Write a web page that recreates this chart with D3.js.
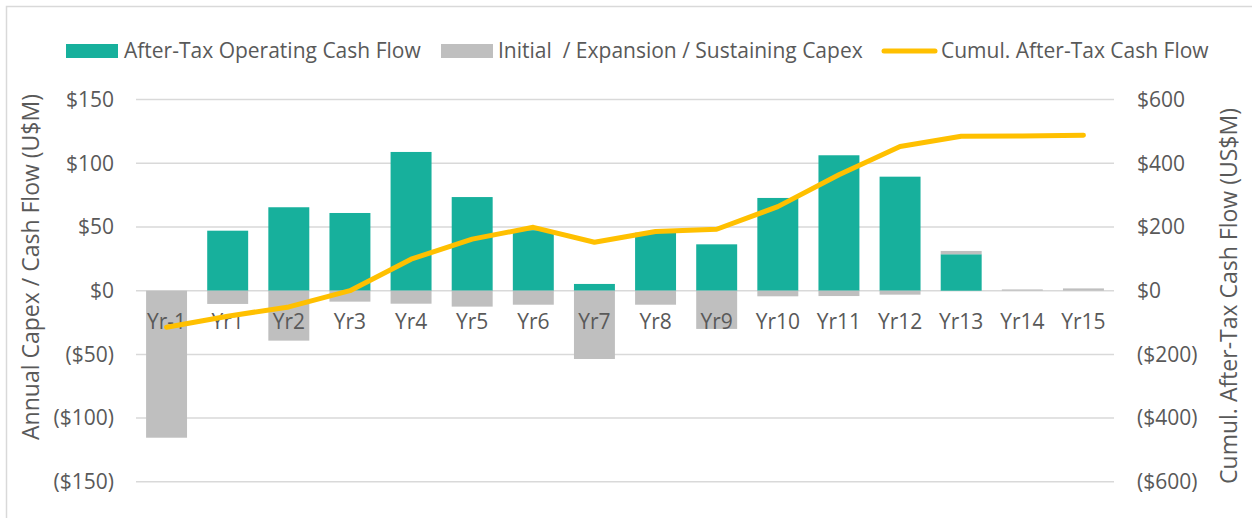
<!DOCTYPE html>
<html>
<head>
<meta charset="utf-8">
<script src="https://cdn.jsdelivr.net/npm/d3@7"></script>
<style>
  html, body { margin: 0; padding: 0; background: #fff; }
  svg text { font-family: "Open Sans", "Noto Sans", sans-serif; fill: #595959; white-space: pre; }
</style>
</head>
<body>
<svg id="chart" width="1252" height="518"></svg>
<script>
// ---- data (US$M) ----
const categories = ["Yr-1","Yr1","Yr2","Yr3","Yr4","Yr5","Yr6","Yr7","Yr8","Yr9","Yr10","Yr11","Yr12","Yr13","Yr14","Yr15"];
const afterTaxOpCF = [0, 47.1, 65.5, 61, 108.9, 73.5, 47.5, 5.3, 45.5, 36.4, 72.8, 106.3, 89.5, 28.6, 0, 0];
const capex = [-115.4, -10.4, -39.2, -8.6, -10.2, -12.5, -11, -53.6, -11, -30, -4.4, -4.2, -3.1, 2.6, 1, 1.8];
const cumulCF = [-115, -80, -51, 0, 99, 162, 199, 152, 186, 193, 264, 364, 453, 485, 486, 488];
const leftTicks = [-150, -100, -50, 0, 50, 100, 150];
const rightTicks = [-600, -400, -200, 0, 200, 400, 600];
const seriesNames = ["After-Tax Operating Cash Flow", "Initial  / Expansion / Sustaining Capex", "Cumul. After-Tax Cash Flow"];
const leftTitle = "Annual Capex / Cash Flow (U$M)";
const rightTitle = "Cumul. After-Tax Cash Flow (US$M)";

const TEAL = "#17B09C", GREY = "#BFBFBF", GOLD = "#FFC000", GRID = "#D9D9D9";
const FONT = "21px";
const TFONT = "23px";

const svg = d3.select("#chart");

// chart border
svg.append("rect").attr("x", 6.5).attr("y", 6.5).attr("width", 1260).attr("height", 530)
  .attr("fill", "none").attr("stroke", GRID).attr("stroke-width", 1.5);

const x = d3.scaleBand().domain(categories).range([136, 1114]).paddingInner(0.33).paddingOuter(0.165);
const yL = d3.scaleLinear().domain([-150, 150]).range([481.8, 99.6]);
const yR = d3.scaleLinear().domain([-600, 600]).range([481.8, 99.6]);

// gridlines
svg.append("g").selectAll("line").data(leftTicks).join("line")
  .attr("x1", 136).attr("x2", 1114)
  .attr("y1", d => yL(d)).attr("y2", d => yL(d))
  .attr("stroke", GRID).attr("stroke-width", 1.5);

const fmt = d => d < 0 ? "($" + Math.abs(d) + ")" : "$" + d;

// left axis
const gl = svg.append("g").attr("transform", "translate(114,0)")
  .call(d3.axisLeft(yL).tickValues(leftTicks).tickFormat(fmt).tickSize(0).tickPadding(0));
gl.select(".domain").remove();
gl.selectAll("text").style("font-size", FONT).attr("fill", "#595959");

// right axis
const gr = svg.append("g").attr("transform", "translate(1137,0)")
  .call(d3.axisRight(yR).tickValues(rightTicks).tickFormat(fmt).tickSize(0).tickPadding(0));
gr.select(".domain").remove();
gr.selectAll("text").style("font-size", FONT).attr("fill", "#595959");

// bars
const rows = categories.map((c, i) => ({ c, op: afterTaxOpCF[i], cx: capex[i] }));
svg.append("g").selectAll("rect").data(rows).join("rect")
  .attr("x", d => x(d.c)).attr("width", x.bandwidth())
  .attr("y", d => yL(d.op)).attr("height", d => yL(0) - yL(d.op))
  .attr("fill", TEAL);
svg.append("g").selectAll("rect").data(rows).join("rect")
  .attr("x", d => x(d.c)).attr("width", x.bandwidth())
  .attr("y", d => d.cx < 0 ? yL(0) : yL(d.op + d.cx))
  .attr("height", d => d.cx < 0 ? yL(d.cx) - yL(0) : yL(d.op) - yL(d.op + d.cx))
  .attr("fill", GREY);

// category labels
svg.append("g").selectAll("text").data(categories).join("text")
  .attr("x", d => x(d) + x.bandwidth() / 2).attr("y", 329)
  .attr("text-anchor", "middle").style("font-size", FONT).text(d => d);

// cumulative line
const line = d3.line().x((d, i) => x(categories[i]) + x.bandwidth() / 2).y(d => yR(d));
svg.append("path").datum(cumulCF).attr("d", line)
  .attr("fill", "none").attr("stroke", GOLD).attr("stroke-width", 5)
  .attr("stroke-linejoin", "round").attr("stroke-linecap", "round");

// axis titles
svg.append("text").attr("transform", "translate(39,267) rotate(-90)")
  .attr("text-anchor", "middle").style("font-size", TFONT).text(leftTitle);
svg.append("text").attr("transform", "translate(1237,296) rotate(-90)")
  .attr("text-anchor", "middle").style("font-size", TFONT).text(rightTitle);

// legend
const lg = svg.append("g");
lg.append("rect").attr("x", 66).attr("y", 44).attr("width", 52).attr("height", 14).attr("fill", TEAL);
lg.append("text").attr("x", 124).attr("y", 58).style("font-size", FONT).text(seriesNames[0]);
lg.append("rect").attr("x", 441).attr("y", 44).attr("width", 52).attr("height", 14).attr("fill", GREY);
lg.append("text").attr("x", 498).attr("y", 58).style("font-size", FONT).text(seriesNames[1]);
lg.append("line").attr("x1", 884).attr("x2", 935).attr("y1", 51).attr("y2", 51)
  .attr("stroke", GOLD).attr("stroke-width", 5).attr("stroke-linecap", "round");
lg.append("text").attr("x", 941).attr("y", 58).style("font-size", FONT).text(seriesNames[2]);
</script>
</body>
</html>
